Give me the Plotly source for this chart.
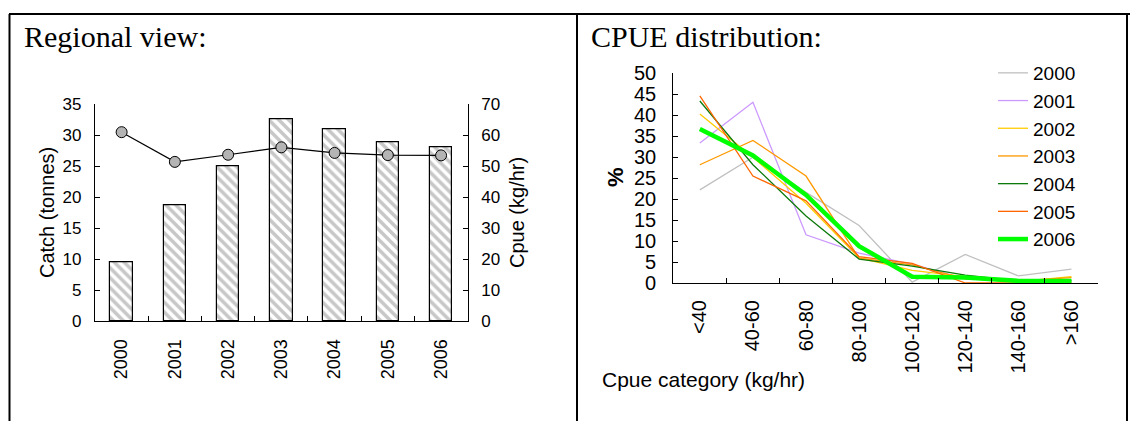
import plotly.graph_objects as go

# Regional catch and catch rate by year
years = ["2000", "2001", "2002", "2003", "2004", "2005", "2006"]
catch_tonnes = [9.5, 18.7, 25.0, 32.6, 31.0, 28.8, 28.0]
cpue_kg_hr = [61.0, 51.4, 53.7, 56.1, 54.3, 53.6, 53.5]

# Percentage of records in each CPUE class, per year
cpue_classes = ["<40", "40-60", "60-80", "80-100", "100-120", "120-140", "140-160", ">160"]
pct_2000 = [22.2, 30.0, 21.6, 13.7, 0.2, 6.8, 1.7, 3.3]
pct_2001 = [33.4, 43.1, 11.5, 7.1, 4.5, 1.0, 0.5, 0.5]
pct_2002 = [40.3, 30.0, 19.0, 6.0, 3.0, 1.5, 0.3, 1.5]
pct_2003 = [28.2, 34.0, 25.5, 5.9, 4.3, 1.0, 0.5, 1.3]
pct_2004 = [43.4, 28.2, 16.0, 5.7, 4.0, 1.9, 0.5, 0.5]
pct_2005 = [44.6, 25.5, 19.6, 6.3, 4.7, 0.0, 0.0, 0.0]
pct_2006 = [36.7, 30.4, 21.0, 8.8, 1.5, 1.3, 0.5, 0.5]

W, H = 1130, 421
SANS = "Liberation Sans, Arial, sans-serif"
SERIF = "Liberation Serif, Times New Roman, serif"


def px_x(x):
    return x / W


def px_y(y):
    return 1 - y / H


fig = go.Figure()

# Left panel: catch bars + cpue line
fig.add_trace(go.Bar(
    x=years, y=catch_tonnes, width=0.42,
    marker=dict(color="white", line=dict(color="black", width=1.2),
                pattern=dict(shape="\\", fgcolor="#8f8f8f", bgcolor="white",
                             size=7, solidity=0.5)),
    xaxis="x", yaxis="y", showlegend=False,
))
fig.add_trace(go.Scatter(
    x=years, y=cpue_kg_hr, mode="lines+markers",
    line=dict(color="black", width=1.2),
    marker=dict(size=11, color="#b4b4b4", line=dict(color="black", width=1)),
    xaxis="x", yaxis="y2", showlegend=False,
))

# Right panel: distribution lines
series = [
    ("2000", pct_2000, "#c0c0c0", 1.3),
    ("2001", pct_2001, "#cc99ff", 1.3),
    ("2002", pct_2002, "#ffcc00", 1.3),
    ("2003", pct_2003, "#ff9900", 1.3),
    ("2004", pct_2004, "#0b7a0b", 1.3),
    ("2005", pct_2005, "#ff6600", 1.3),
    ("2006", pct_2006, "#00ff00", 4.5),
]
for name, vals, col, w in series:
    fig.add_trace(go.Scatter(
        x=cpue_classes, y=vals, mode="lines", name=name,
        line=dict(color=col, width=w),
        xaxis="x3", yaxis="y3",
    ))

axis_common = dict(showline=True, linecolor="black", linewidth=1.2,
                   ticks="inside", ticklen=5, tickcolor="black", tickwidth=1,
                   showgrid=False, zeroline=False)

fig.update_layout(
    width=W, height=H,
    margin=dict(l=0, r=0, t=0, b=0, autoexpand=False),
    paper_bgcolor="white", plot_bgcolor="white",
    font=dict(family=SANS, color="black"),
    bargap=0,
    xaxis=dict(domain=[px_x(95), px_x(467.7)], anchor="y", type="category",
               tickson="boundaries", tickangle=-90,
               tickfont=dict(size=18), ticklabelstandoff=10, **axis_common),
    yaxis=dict(domain=[px_y(321), px_y(104.3)], anchor="x", range=[0, 35],
               dtick=5, tickfont=dict(size=17), ticklabelstandoff=9,
               **axis_common),
    yaxis2=dict(overlaying="y", side="right", anchor="x", range=[0, 70],
                dtick=10, tickfont=dict(size=17), ticklabelstandoff=9,
                **axis_common),
    xaxis3=dict(domain=[px_x(673.3), px_x(1098)], anchor="y3", type="category",
                tickson="boundaries", tickangle=-90, range=[-0.5, 7.5],
                tickfont=dict(size=20), ticklabelstandoff=8, **axis_common),
    yaxis3=dict(domain=[px_y(283), px_y(73.3)], anchor="x3", range=[0, 50],
                dtick=5, tickfont=dict(size=20), ticklabelstandoff=12,
                **axis_common),
    legend=dict(x=px_x(993), y=px_y(54), xanchor="left", yanchor="top",
                font=dict(size=19), bgcolor="rgba(0,0,0,0)", borderwidth=0,
                itemwidth=30, tracegroupgap=0),
)

# Table-style frame around the two panels
frame = dict(type="line", xref="paper", yref="paper",
             line=dict(color="black", width=2))
fig.add_shape(x0=px_x(9), x1=px_x(1130), y0=px_y(14), y1=px_y(14), **frame)
fig.add_shape(x0=px_x(9.5), x1=px_x(9.5), y0=px_y(14), y1=0, **frame)
fig.add_shape(x0=px_x(577), x1=px_x(577), y0=px_y(14), y1=0, **frame)
fig.add_shape(x0=px_x(1127), x1=px_x(1127), y0=px_y(14), y1=0, **frame)

annotations = [
    dict(text="Regional view:", x=px_x(22), y=px_y(37), xanchor="left",
         yanchor="middle", font=dict(family=SERIF, size=30)),
    dict(text="CPUE distribution:", x=px_x(589), y=px_y(37), xanchor="left",
         yanchor="middle", font=dict(family=SERIF, size=30)),
    dict(text="Catch (tonnes)", x=px_x(47), y=px_y(213), textangle=-90,
         xanchor="center", yanchor="middle", font=dict(size=20)),
    dict(text="Cpue (kg/hr)", x=px_x(517), y=px_y(213), textangle=-90,
         xanchor="center", yanchor="middle", font=dict(size=20)),
    dict(text="<b>%</b>", x=px_x(615), y=px_y(177), textangle=-90,
         xanchor="center", yanchor="middle", font=dict(size=22)),
    dict(text="Cpue category (kg/hr)", x=px_x(600), y=px_y(379),
         xanchor="left", yanchor="middle", font=dict(size=21)),
]
for a in annotations:
    fig.add_annotation(xref="paper", yref="paper", showarrow=False, **a)

fig.write_html("out.html")
